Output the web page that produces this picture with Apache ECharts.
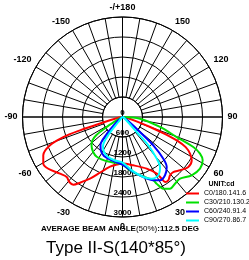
<!DOCTYPE html>
<html>
<head>
<meta charset="utf-8">
<script src="https://cdn.jsdelivr.net/npm/echarts@6/dist/echarts.min.js"></script>
<style>
html,body{margin:0;padding:0;background:#fff}
#main{width:249px;height:260px}
</style>
</head>
<body>
<div id="main"></div>
<script>
var names = ['C0/180.141.6', 'C30/210.130.2', 'C60/240.91.4', 'C90/270.86.7'];
var colors = ['#ff0000', '#00e000', '#0000ff', '#00ffff'];
var radiusTicks = [0, 600, 1200, 1800, 2400, 3000];

// gamma angle (deg, 0 = straight down, + = right) and intensity (cd)
var c0Angle = [-90,-80,-74,-72.6,-71.3,-68.7,-64.2,-59.5,-55.1,-47.8,-42.9,-39.3,-36,-32.9,-27.8,-23.1,-14,-7,0,12.6,25.1,31.1,32.4,33.2,35.9,39.2,42.7,47.2,52.8,58,61.5,64.5,66.5,68,70,73,80,90];
var c0Value = [0,100,700,1336,1875,2335,2640,2758,2713,2532,2458,2520,2510,2347,2092,1849,1537,1440,1395,1486,1712,1986,2192,2330,2345,2256,2246,2352,2480,2449,2305,2100,1800,1400,900,400,100,0];

var c30Angle = [-90,-70,-60,-57.5,-55.5,-52,-47,-40,-33,-22,-10,0,8,16.7,26,27.1,29.6,33.5,38.2,43,49.9,56.3,61.6,64.7,67,69.7,75.1,84.5,90];
var c30Value = [0,50,250,600,950,1150,1270,1370,1420,1410,1390,1430,1615,1827,2112,2249,2475,2580,2546,2530,2714,2795,2734,2572,2307,1733,1164,527,0];

var c60Angle = [-90,-60,-50,-42.5,-38.2,-32.3,-25.4,-15,0,11.1,19.1,26,30.6,36.1,41.5,44.4,47.4,49.4,55,70,90];
var c60Value = [0,40,200,732,1068,1207,1295,1335,1430,1681,1905,2112,2208,2165,2002,1750,1255,691,200,40,0];

var c90Angle = [-90,-50,-40,-38.5,-33.9,-27.9,-19.9,-9.8,0,9.8,19.1,25.3,31.6,36.9,39.4,42.4,43.4,50,70,90];
var c90Value = [0,40,196,651,1048,1188,1276,1324,1370,1623,1905,2047,2053,1875,1617,1149,620,150,30,0];

var angles = [c0Angle, c30Angle, c60Angle, c90Angle];
var values = [c0Value, c30Value, c60Value, c90Value];

var font = 'Liberation Sans, Arial, sans-serif';
var chart = echarts.init(document.getElementById('main'));

function pairs(a, v) {
  var out = [];
  for (var i = 0; i < a.length; i++) {
    out.push([v[i], a[i] < 0 ? a[i] + 360 : a[i]]);
  }
  return out;
}

var series = [];
for (var i = 0; i < names.length; i++) {
  series.push({
    name: names[i],
    type: 'line',
    coordinateSystem: 'polar',
    polarIndex: 1,
    smooth: 0.3,
    showSymbol: false,
    color: colors[i],
    lineStyle: {color: colors[i], width: 2},
    z: 5 + i,
    data: pairs(angles[i], values[i])
  });
}

var option = {
  backgroundColor: '#fff',
  animation: false,
  polar: [
    {center: [122.5, 117], radius: [20, 100]},
    {center: [122.5, 117], radius: [0, 100]}
  ],
  angleAxis: [
    {
      polarIndex: 0, type: 'value', min: 0, max: 360, interval: 10,
      startAngle: -90, clockwise: false,
      axisLine: {show: true, lineStyle: {color: '#000', width: 1}},
      axisTick: {show: false},
      axisLabel: {
        margin: 5, color: '#000', fontSize: 9, fontWeight: 'bold', fontFamily: font,
        formatter: function (v) {
          if (v % 30 !== 0) return '';
          if (v === 360 || v === 0) return '0';
          if (v === 180) return '-/+180';
          return v > 180 ? String(v - 360) : String(v);
        }
      },
      splitLine: {show: true, lineStyle: {color: '#000', width: 1}}
    },
    {
      polarIndex: 1, type: 'value', min: 0, max: 360, interval: 90,
      startAngle: -90, clockwise: false,
      axisLine: {show: false}, axisTick: {show: false}, axisLabel: {show: false},
      splitLine: {show: true, lineStyle: {color: '#000', width: 1}}
    }
  ],
  radiusAxis: [
    {
      polarIndex: 0, min: 600, max: 3000, interval: 600,
      axisLine: {show: false}, axisTick: {show: false}, axisLabel: {show: false},
      splitLine: {show: true, lineStyle: {color: '#000', width: 1}}
    },
    {
      polarIndex: 1, min: radiusTicks[0], max: radiusTicks[radiusTicks.length - 1], interval: 600,
      axisLine: {show: false}, axisTick: {show: false},
      axisLabel: {
        margin: 0, align: 'center', verticalAlign: 'bottom',
        color: '#000', fontSize: 8, fontWeight: 'bold', fontFamily: font,
        formatter: function (v) { return String(v); }
      },
      splitLine: {show: false}
    }
  ],
  legend: {
    orient: 'vertical', left: 186, top: 189, padding: 0,
    icon: 'rect', itemWidth: 13, itemHeight: 2, itemGap: 0,
    selectedMode: false,
    textStyle: {color: '#000', fontSize: 7, lineHeight: 9, fontFamily: font},
    data: names
  },
  graphic: [
    {type: 'text', x: 221.5, y: 184, style: {text: 'UNIT:cd', font: 'bold 7px ' + font, fill: '#000', textAlign: 'center', textVerticalAlign: 'middle'}},
    {type: 'text', x: 120, y: 229, style: {
      text: '{b|AVERAGE BEAM ANGLE}{n|(50%)}{b|:112.5 DEG}',
      textAlign: 'center', textVerticalAlign: 'middle', fill: '#000',
      rich: {b: {font: 'bold 8px ' + font, fill: '#000'}, n: {font: '8px ' + font, fill: '#000'}}
    }},
    {type: 'text', x: 116, y: 248, style: {text: 'Type II-S(140*85°)', font: '17px ' + font, fill: '#000', textAlign: 'center', textVerticalAlign: 'middle'}}
  ],
  series: series
};
chart.setOption(option);
</script>
</body>
</html>
